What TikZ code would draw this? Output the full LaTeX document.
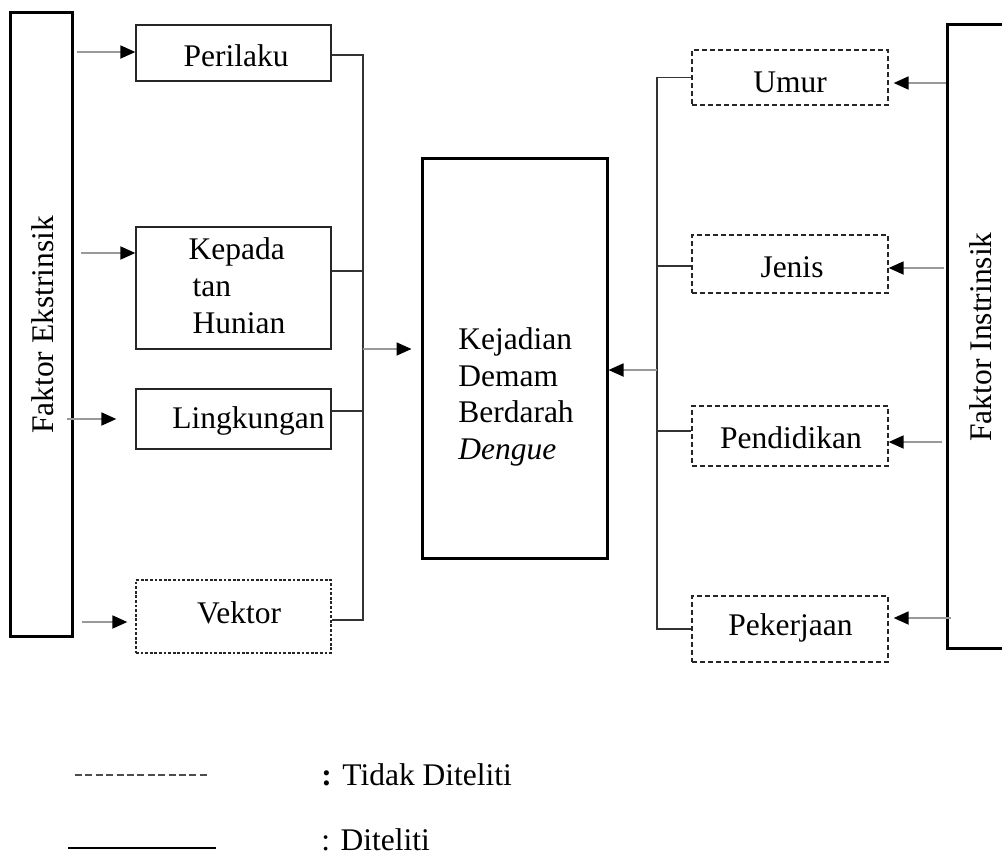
\documentclass[tikz,border=0pt]{standalone}
\usepackage{fontspec}
\setmainfont{Liberation Serif}
\usetikzlibrary{arrows.meta}
\begin{document}
\begin{tikzpicture}[x=0.5pt,y=-0.5pt,
  font=\fontsize{15.75}{18.4}\selectfont,
  box/.style={draw=black!85, line width=0.65pt, inner sep=0pt, minimum width=97.5pt},
  dbox/.style={box, dash pattern=on 2.5pt off 1.5pt},
  vbox/.style={box, dash pattern=on 1.4pt off 0.9pt},
  bigbox/.style={draw=black, line width=1.5pt, inner sep=0pt},
  txt/.style={inner sep=0pt},
  conn/.style={draw=black!80, line width=0.7pt},
  arr/.style={draw=black!40, line width=0.9pt,
    -{Triangle[length=7.5pt,width=6.5pt,color=black,fill=black]}},
  legdash/.style={draw=black!70, line width=0.6pt, dash pattern=on 3.5pt off 1.7pt},
  legsolid/.style={draw=black, line width=1pt}]
\useasboundingbox (0,0) rectangle (1002,857);
\clip (0,0) rectangle (1002,857);

% left tall box
\node[bigbox, minimum width=31pt, minimum height=312pt] (L) at (41,324) {};
\node[txt, rotate=90] (Ltxt) at (43,325) {Faktor Ekstrinsik};

% left boxes
\node[box, minimum height=28pt] (P1) at (233.5,53) {};
\node[txt] (P1t) at (236,56) {Perilaku};
\node[box, minimum height=61pt] (P2) at (233.5,288) {};
\node[txt, align=left] (P2t) at (237,286) {Kepada\\\hspace*{2pt}tan\\\hspace*{2pt}Hunian};
\node[box, minimum height=30pt] (P3) at (233.5,419) {};
\node[txt] (P3t) at (248.5,421) {Lingkungan};
\node[vbox, minimum height=36.5pt] (P4) at (233.5,616.5) {};
\node[txt] (P4t) at (239,613) {Vektor};

% central box
\node[bigbox, minimum width=92.5pt, minimum height=200pt] (K) at (514.5,358) {};
\node[txt, align=left] (Kt) at (516,397) {Kejadian\\Demam\\Berdarah\\\textit{Dengue}};

% right boxes
\node[dbox, minimum width=98pt, minimum height=27.5pt] (R1) at (790,77.5) {};
\node[txt] (R1t) at (790,82) {Umur};
\node[dbox, minimum width=98pt, minimum height=29pt] (R2) at (790,264) {};
\node[txt] (R2t) at (792,267) {Jenis};
\node[dbox, minimum width=98pt, minimum height=30pt] (R3) at (790,436) {};
\node[txt] (R3t) at (791,438) {Pendidikan};
\node[dbox, minimum width=98pt, minimum height=33pt] (R4) at (790,629) {};
\node[txt] (R4t) at (790.5,628) {Pekerjaan};

% right tall box
\node[bigbox, minimum width=58pt, minimum height=312pt] (RB) at (1005,336) {};
\node[txt, rotate=90] (RBt) at (981,337) {Faktor Instrinsik};

% left bus
\coordinate (lbus) at (363,349);
\draw[conn] ([yshift=-1pt]P1.east) -| ([yshift=-1.75pt]P4.east -| lbus) -- ([yshift=-1.75pt]P4.east);
\draw[conn] ([yshift=8.5pt]P2.east) -- ([yshift=8.5pt]P2.east -| lbus);
\draw[conn] ([yshift=4pt]P3.east) -- ([yshift=4pt]P3.east -| lbus);
\draw[arr, shorten >=4.5pt] (lbus) -- (lbus -| K.west);

% right bus
\coordinate (rbus) at (657,370);
\draw[conn] (R1.west) -| (R4.west -| rbus) -- (R4.west);
\draw[conn] ([yshift=-1pt]R2.west) -- ([yshift=-1pt]R2.west -| rbus);
\draw[conn] ([yshift=2.5pt]R3.west) -- ([yshift=2.5pt]R3.west -| rbus);
\draw[arr] (rbus) -- (rbus -| K.east);

% left input arrows
\coordinate (s1) at (77,52);
\coordinate (s2) at (81,253);
\coordinate (s3) at (67,419);
\coordinate (s4) at (82,622);
\draw[arr] (s1) -- (s1 -| P1.west);
\draw[arr] (s2) -- (s2 -| P2.west);
\draw[arr, shorten >=9.5pt] (s3) -- (s3 -| P3.west);
\draw[arr, shorten >=4pt] (s4) -- (s4 -| P4.west);

% right input arrows
\coordinate (t1) at (946,83);
\coordinate (t2) at (944,268);
\coordinate (t3) at (942,442);
\coordinate (t4) at (951,618);
\draw[arr, shorten >=2.5pt] (t1) -- (t1 -| R1.east);
\draw[arr] (t2) -- (t2 -| R2.east);
\draw[arr] (t3) -- (t3 -| R3.east);
\draw[arr, shorten >=2.5pt] (t4) -- (t4 -| R4.east);

% legend
\coordinate (la) at (75,775);
\coordinate (lb) at (210,775);
\coordinate (lc) at (68,848);
\coordinate (ld) at (216,848);
\draw[legdash] (la) -- (lb);
\draw[legsolid] (lc) -- (ld);
\node[txt, anchor=west] (lg1) at (321,775) {\textbf{:} Tidak Diteliti};
\node[txt, anchor=west] (lg2) at (321,840) {: Diteliti};
\end{tikzpicture}
\end{document}
